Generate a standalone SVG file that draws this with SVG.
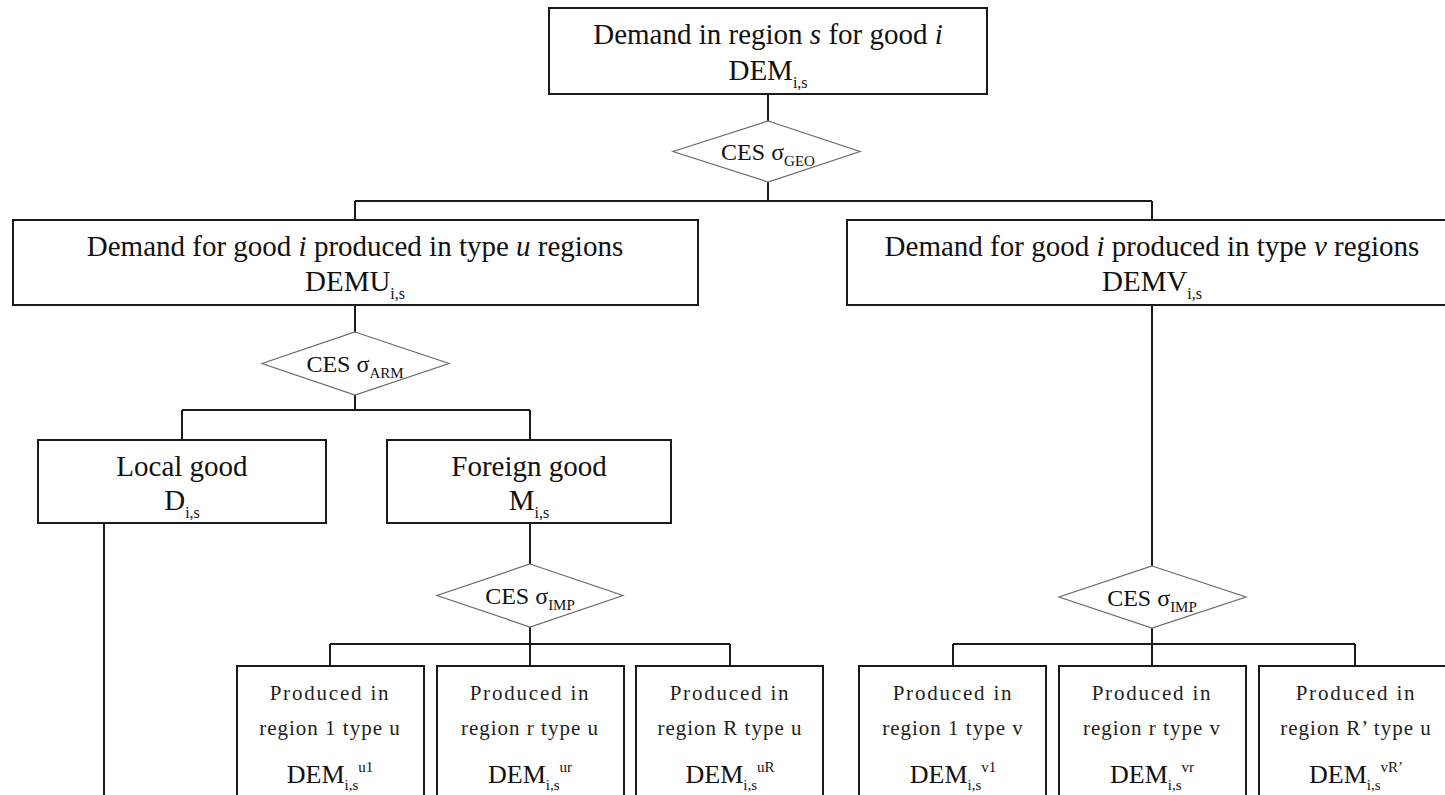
<svg xmlns="http://www.w3.org/2000/svg" width="1445" height="795" viewBox="0 0 1445 795">
<style>
.box{fill:#fff;stroke:#1a1a1a;stroke-width:2}
.dia{fill:#fff;stroke:#6a6a6a;stroke-width:1.2}
.ln{fill:none;stroke:#1a1a1a;stroke-width:2}
text{font-family:"Liberation Serif","Times New Roman",serif;fill:#111;text-anchor:middle}
.big{font-size:29px}
.ces{font-size:24px}
.sm{font-size:21px;letter-spacing:1px;fill:#222}
.sm1{letter-spacing:1.8px}
.dem{font-size:26px}
.it{font-style:italic}
</style>
<rect width="1445" height="795" fill="#fff"/>
<g id="connectors">
<path class="ln" d="M768 94V121M768 182V201M355 201H1152M355 201V220M1152 201V220"/>
<path class="ln" d="M355 305V332M355 395V410M182 410H530M182 410V440M530 410V440"/>
<path class="ln" d="M104 523V800"/>
<path class="ln" d="M530 523V564M530 627V644M330 644H730M330 644V666M530 644V666M730 644V666"/>
<path class="ln" d="M1152 305V566M1152 628V644M953 644H1355M953 644V666M1152 644V666M1355 644V666"/>
</g>
<g id="n-dem">
<rect class="box" x="549" y="8" width="438" height="86"/>
<text class="big" x="768" y="44">Demand in region <tspan class="it">s</tspan> for good <tspan class="it">i</tspan></text>
<text class="big" x="768" y="80">DEM<tspan font-size="16" dy="8">i,s</tspan></text>
</g>
<g id="d-geo">
<polygon class="dia" points="768,121 860,151.5 768,182 673,151.5"/>
<text class="ces" x="768" y="160">CES σ<tspan font-size="15" dy="6">GEO</tspan></text>
</g>
<g id="n-demu">
<rect class="box" x="13" y="220" width="685" height="85"/>
<text class="big" x="355" y="256">Demand for good <tspan class="it">i</tspan> produced in type <tspan class="it">u</tspan> regions</text>
<text class="big" x="355" y="291">DEMU<tspan font-size="16" dy="8">i,s</tspan></text>
</g>
<g id="n-demv">
<rect class="box" x="847" y="220" width="610" height="85"/>
<text class="big" x="1152" y="256">Demand for good <tspan class="it">i</tspan> produced in type <tspan class="it">v</tspan> regions</text>
<text class="big" x="1152" y="291">DEMV<tspan font-size="16" dy="8">i,s</tspan></text>
</g>
<g id="d-arm">
<polygon class="dia" points="355,332 449,363.5 355,395 262,363.5"/>
<text class="ces" x="355" y="372">CES σ<tspan font-size="15" dy="6">ARM</tspan></text>
</g>
<g id="n-local">
<rect class="box" x="38" y="440" width="288" height="83"/>
<text class="big" x="182" y="476">Local good</text>
<text class="big" x="182" y="510">D<tspan font-size="16" dy="8">i,s</tspan></text>
</g>
<g id="n-foreign">
<rect class="box" x="387" y="440" width="284" height="83"/>
<text class="big" x="529" y="476">Foreign good</text>
<text class="big" x="529" y="510">M<tspan font-size="16" dy="8">i,s</tspan></text>
</g>
<g id="d-imp-u">
<polygon class="dia" points="530,564 623,595.5 530,627 437,595.5"/>
<text class="ces" x="530" y="604">CES σ<tspan font-size="15" dy="6">IMP</tspan></text>
</g>
<g id="d-imp-v">
<polygon class="dia" points="1152,566 1246,597 1152,628 1059,597"/>
<text class="ces" x="1152" y="606">CES σ<tspan font-size="15" dy="6">IMP</tspan></text>
</g>
<g id="n-u1">
<rect class="box" x="237" y="666" width="187" height="140"/>
<text class="sm sm1" x="330" y="700">Produced in</text>
<text class="sm" x="330" y="735">region 1 type u</text>
<text class="dem" x="330" y="783">DEM<tspan font-size="15" dy="7">i,s</tspan><tspan font-size="15" dy="-18">u1</tspan></text>
</g>
<g id="n-ur">
<rect class="box" x="437" y="666" width="187" height="140"/>
<text class="sm sm1" x="530" y="700">Produced in</text>
<text class="sm" x="530" y="735">region r type u</text>
<text class="dem" x="530" y="783">DEM<tspan font-size="15" dy="7">i,s</tspan><tspan font-size="15" dy="-18">ur</tspan></text>
</g>
<g id="n-uR">
<rect class="box" x="636" y="666" width="187" height="140"/>
<text class="sm sm1" x="730" y="700">Produced in</text>
<text class="sm" x="730" y="735">region R type u</text>
<text class="dem" x="730" y="783">DEM<tspan font-size="15" dy="7">i,s</tspan><tspan font-size="15" dy="-18">uR</tspan></text>
</g>
<g id="n-v1">
<rect class="box" x="859" y="666" width="187" height="140"/>
<text class="sm sm1" x="953" y="700">Produced in</text>
<text class="sm" x="953" y="735">region 1 type v</text>
<text class="dem" x="953" y="783">DEM<tspan font-size="15" dy="7">i,s</tspan><tspan font-size="15" dy="-18">v1</tspan></text>
</g>
<g id="n-vr">
<rect class="box" x="1059" y="666" width="187" height="140"/>
<text class="sm sm1" x="1152" y="700">Produced in</text>
<text class="sm" x="1152" y="735">region r type v</text>
<text class="dem" x="1152" y="783">DEM<tspan font-size="15" dy="7">i,s</tspan><tspan font-size="15" dy="-18">vr</tspan></text>
</g>
<g id="n-vR">
<rect class="box" x="1259" y="666" width="192" height="140"/>
<text class="sm sm1" x="1356" y="700">Produced in</text>
<text class="sm" x="1356" y="735">region R’ type u</text>
<text class="dem" x="1356" y="783">DEM<tspan font-size="15" dy="7">i,s</tspan><tspan font-size="15" dy="-18">vR’</tspan></text>
</g>
</svg>
